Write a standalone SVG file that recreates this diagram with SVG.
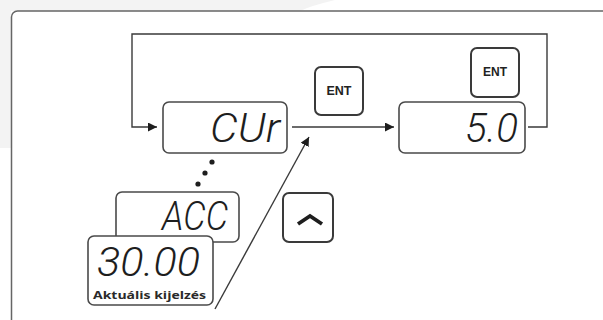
<svg xmlns="http://www.w3.org/2000/svg" width="603" height="320" viewBox="0 0 603 320">
<defs>
<style>
.box{fill:#fff;stroke:#4a4a4a;stroke-width:1.6}
.btn{fill:#fff;stroke:#3a3a3a;stroke-width:2}
.conn{fill:none;stroke:#3a3a3a;stroke-width:1.4}
.seg{font-family:Roboto,"Liberation Sans",Arial,sans-serif;font-style:italic;font-weight:300;font-size:41px;fill:#1e1e1e;text-anchor:end}
.ent{font-family:"Liberation Sans",Arial,sans-serif;font-weight:bold;fill:#222;text-anchor:middle}
.lbl{font-family:"Open Sans","Liberation Sans",sans-serif;font-weight:bold;font-size:11px;fill:#2a2a2a}
</style>
<marker id="ah" viewBox="0 0 10 10" refX="10" refY="5" markerWidth="9" markerHeight="9" markerUnits="userSpaceOnUse" orient="auto">
<path d="M0,0 L10,5 L0,10 z" fill="#1e1e1e"/>
</marker>
</defs>
<rect width="603" height="320" fill="#fff"/>
<path d="M0,0 L335,0 Q310,6 300,11 L11,11 L11,148 L0,148 Z" fill="#f3f3f3"/>
<rect x="11.5" y="11" width="700" height="400" rx="6" fill="#fff" stroke="#666" stroke-width="1.5"/>

<g id="connectors">
<polyline class="conn" points="528,127 547,127 547,34 132,34 132,127 157,127" marker-end="url(#ah)"/>
<line class="conn" x1="292" y1="127" x2="394" y2="127" marker-end="url(#ah)"/>
<line class="conn" x1="215" y1="309" x2="309" y2="137" stroke-width="1.6" marker-end="url(#ah)"/>
<circle cx="212" cy="162" r="2.6" fill="#1e1e1e"/>
<circle cx="205" cy="173" r="2.6" fill="#1e1e1e"/>
<circle cx="198" cy="184" r="2.6" fill="#1e1e1e"/>
</g>

<g id="cur">
<rect class="box" x="163" y="102" width="124" height="51" rx="6"/>
<text class="seg" x="280" y="142" textLength="70" lengthAdjust="spacingAndGlyphs">CUr</text>
</g>

<g id="val50">
<rect class="box" x="399" y="102" width="126" height="51" rx="6"/>
<text class="seg" x="518" y="142" textLength="53" lengthAdjust="spacingAndGlyphs">5.0</text>
</g>

<g id="ent1">
<rect class="btn" x="315" y="67" width="48" height="48" rx="6"/>
<text class="ent" x="339" y="95" font-size="12.5">ENT</text>
</g>

<g id="ent2">
<rect class="btn" x="471" y="48" width="48" height="49" rx="6"/>
<text class="ent" x="495" y="76" font-size="12">ENT</text>
</g>

<g id="acc">
<rect class="box" x="116" y="192" width="123" height="50" rx="6"/>
<text class="seg" x="228" y="230" font-size="38" textLength="66" lengthAdjust="spacingAndGlyphs">ACC</text>
</g>

<g id="actual">
<rect class="box" x="88" y="236" width="125" height="69" rx="6"/>
<text class="seg" x="200" y="276" font-size="40" textLength="103" lengthAdjust="spacingAndGlyphs">30.00</text>
<text class="lbl" x="93" y="299" textLength="113" lengthAdjust="spacingAndGlyphs">Aktuális kijelzés</text>
</g>

<g id="up">
<rect class="btn" x="283" y="193" width="50" height="49" rx="6"/>
<path d="M298,224 L310,216 L322,224" fill="none" stroke="#1e1e1e" stroke-width="3.8" stroke-linejoin="miter"/>
</g>
</svg>
